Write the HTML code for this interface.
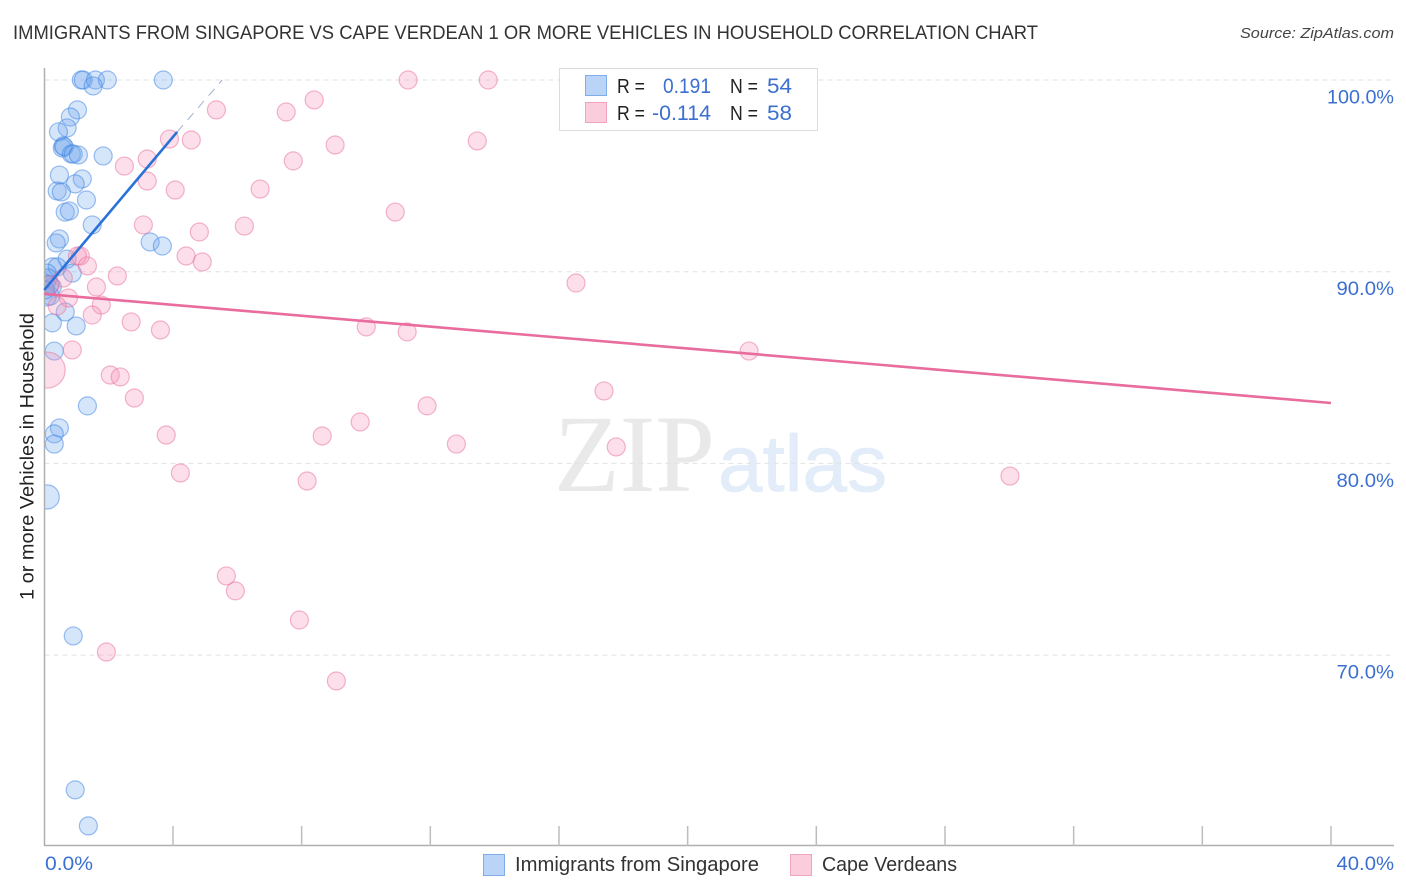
<!DOCTYPE html>
<html lang="en">
<head>
<meta charset="utf-8">
<title>Immigrants from Singapore vs Cape Verdean Correlation Chart</title>
<style>
html,body{margin:0;padding:0;background:#fff;width:1406px;height:892px;overflow:hidden}
svg{display:block}
text{font-family:"Liberation Sans",sans-serif}
</style>
</head>
<body>
<svg id="chart" xmlns="http://www.w3.org/2000/svg" width="1406" height="892" viewBox="0 0 1406 892">
<rect x="0" y="0" width="1406" height="892" fill="#fff"/>
<g>
<text x="554" y="491" font-size="110" fill="#e9e9e9" style="font-family:'Liberation Serif',serif" textLength="161" lengthAdjust="spacingAndGlyphs">ZIP</text>
<text x="718" y="491" font-size="80" fill="#e3ecf9" stroke="#e3ecf9" stroke-width="0.8" textLength="169" lengthAdjust="spacingAndGlyphs">atlas</text>
</g>
<g id="grid"></g>
<g id="points-blue"></g>
<g id="points-pink"></g>
<rect x="0" y="60" width="44.5" height="790" fill="#fff"/>
<g id="axes"></g>
<g id="trends"></g>
<text x="13" y="39" font-size="19.5" fill="#333" textLength="1025" lengthAdjust="spacingAndGlyphs">IMMIGRANTS FROM SINGAPORE VS CAPE VERDEAN 1 OR MORE VEHICLES IN HOUSEHOLD CORRELATION CHART</text>
<text x="1394" y="38" font-size="15" font-style="italic" fill="#444" text-anchor="end" textLength="154" lengthAdjust="spacingAndGlyphs">Source: ZipAtlas.com</text>
<text transform="translate(33.5,456.5) rotate(-90)" font-size="19.5" fill="#222" text-anchor="middle" textLength="287" lengthAdjust="spacingAndGlyphs">1 or more Vehicles in Household</text>
<g>
<rect x="559.5" y="68.5" width="258" height="62" fill="#fff" stroke="#dcdcdc" stroke-width="1"/>
<rect x="585.5" y="75.5" width="21" height="20" fill="#b9d4f6" stroke="#7fadea"/>
<rect x="585.5" y="102.5" width="21" height="20" fill="#fbcddc" stroke="#f2a3be"/>
<text x="617" y="93" font-size="20" fill="#222" textLength="28" lengthAdjust="spacingAndGlyphs">R =</text>
<text x="711" y="93" font-size="21.5" fill="#3b6fd0" text-anchor="end" textLength="48" lengthAdjust="spacingAndGlyphs">0.191</text>
<text x="730" y="93" font-size="20" fill="#222" textLength="28" lengthAdjust="spacingAndGlyphs">N =</text>
<text x="767" y="93" font-size="21.5" fill="#3b6fd0" textLength="25" lengthAdjust="spacingAndGlyphs">54</text>
<text x="617" y="120" font-size="20" fill="#222" textLength="28" lengthAdjust="spacingAndGlyphs">R =</text>
<text x="711" y="120" font-size="21.5" fill="#3b6fd0" text-anchor="end" textLength="59" lengthAdjust="spacingAndGlyphs">-0.114</text>
<text x="730" y="120" font-size="20" fill="#222" textLength="28" lengthAdjust="spacingAndGlyphs">N =</text>
<text x="767" y="120" font-size="21.5" fill="#3b6fd0" textLength="25" lengthAdjust="spacingAndGlyphs">58</text>
</g>
<g>
<rect x="483.5" y="854.5" width="21" height="21" fill="#b9d4f6" stroke="#7fadea"/>
<text x="515" y="871" font-size="20" fill="#333" textLength="244" lengthAdjust="spacingAndGlyphs">Immigrants from Singapore</text>
<rect x="790.5" y="854.5" width="21" height="21" fill="#fbcddc" stroke="#f2a3be"/>
<text x="822" y="871" font-size="20" fill="#333" textLength="135" lengthAdjust="spacingAndGlyphs">Cape Verdeans</text>
</g>
</svg>
<script>
const xTickValues = [0, 4, 8, 12, 16, 20, 24, 28, 32, 36, 40];
const yGridValues = [100, 90, 80, 70];
const yTickLabels = ["100.0%", "90.0%", "80.0%", "70.0%"];
const xEndLabels = ["0.0%", "40.0%"];

const blueX = [1.15,1.21,1.59,1.96,3.70,1.52,1.03,0.81,0.71,0.44,0.59,0.56,0.62,0.84,0.90,1.06,1.83,0.47,1.18,0.96,0.40,0.53,1.31,0.65,0.78,1.49,3.29,3.67,0.47,0.37,0.71,0.87,0.25,0.40,0.09,0.12,0.06,0.25,0.19,0.09,0.65,0.99,0.25,0.31,1.34,0.47,0.31,0.31,0.09,0.90,0.96,1.37,0.16,0.03];
const blueY = [100,100,100,100,100,99.69,98.44,98.07,97.50,97.29,96.56,96.45,96.51,96.14,96.14,96.09,96.04,95.04,94.84,94.58,94.21,94.16,93.74,93.11,93.17,92.44,91.55,91.34,91.71,91.50,90.66,89.93,90.25,90.25,89.93,89.67,89.36,89.20,88.73,88.68,87.90,87.17,87.33,85.86,83.00,81.85,81.54,81.01,78.25,71.0,62.97,61.09,89.31,89.05];
const blueWeight = [1,1,1,1,1,1,1,1,1,1,1,1,1,1,1,1,1,1,1,1,1,1,1,1,1,1,1,1,1,1,1,1,1,1,1,1,1,1,1,1,1,1,1,1,1,1,1,1,1.8,1,1,1,1,1];

const pinkX = [11.31,13.80,8.39,7.52,5.35,3.89,4.57,9.04,13.46,3.20,2.49,7.74,3.20,4.07,6.71,10.91,3.08,6.22,4.82,4.41,4.91,1.12,1.03,1.34,2.27,16.53,1.62,0.59,0.75,0.40,1.77,1.49,2.70,3.61,10.01,11.28,0.87,21.91,0.09,2.05,2.36,17.40,2.80,11.90,9.82,3.79,8.64,12.81,17.78,4.23,8.17,30.02,5.66,5.94,7.93,1.93,9.08,0.19];
const pinkY = [100,100,98.96,98.33,98.44,96.92,96.87,96.61,96.82,95.88,95.51,95.78,94.73,94.26,94.31,93.11,92.44,92.38,92.07,90.82,90.51,90.82,90.82,90.30,89.78,89.41,89.20,89.67,88.63,88.21,88.26,87.74,87.38,86.96,87.12,86.86,85.92,85.86,84.87,84.61,84.51,83.78,83.41,83.00,82.16,81.48,81.43,81.01,80.86,79.50,79.08,79.34,74.13,73.35,71.83,70.16,68.65,89.31];
const pinkWeight = [1,1,1,1,1,1,1,1,1,1,1,1,1,1,1,1,1,1,1,1,1,1,1,1,1,1,1,1,1,1,1,1,1,1,1,1,1,1,4,1,1,1,1,1,1,1,1,1,1,1,1,1,1,1,1,1,1,1];

const blueTrendX = [0, 4.13];
const blueTrendY = [89.05, 97.29];
const blueExtensionX = [4.13, 5.53];
const blueExtensionY = [97.29, 100];
const pinkTrendX = [0, 40];
const pinkTrendY = [88.84, 83.15];

const NS = "http://www.w3.org/2000/svg";
function xScale(v) { return 44.3 + v * (1331 - 44.3) / 40; }
function yScale(v) { return 80 + (100 - v) * 19.17; }
function make(tag, attrs, parent) {
  const el = document.createElementNS(NS, tag);
  for (const k in attrs) el.setAttribute(k, attrs[k]);
  parent.appendChild(el);
  return el;
}
function labelWidth(text) { return text.length * 9.5 + 10; }

const grid = document.getElementById("grid");
yGridValues.forEach(function (v) {
  const line = make("line", {x1: 44.5, x2: 1394, y1: yScale(v), y2: yScale(v), stroke: "#e2e2e2", "stroke-width": 1, "stroke-dasharray": "5 4"}, grid);
  
  
});

const axes = document.getElementById("axes");
const yAxisLine = make("line", {x1: 44.5, x2: 44.5, y1: 68, y2: 846, stroke: "#b0b0b0", "stroke-width": 1.5}, axes);


const xAxisLine = make("line", {x1: 44, x2: 1394, y1: 845.5, y2: 845.5, stroke: "#b0b0b0", "stroke-width": 1.5}, axes);


xTickValues.slice(1).forEach(function (v) {
  const tick = make("line", {x1: xScale(v), x2: xScale(v), y1: 826, y2: 846, stroke: "#bdbdbd", "stroke-width": 1.5}, axes);
  
  
});
yGridValues.forEach(function (v, i) {
  const label = make("text", {x: 1394, y: yScale(v) + 23.5, "font-size": 19.5, fill: "#3b6fd0", "text-anchor": "end", textLength: labelWidth(yTickLabels[i]), lengthAdjust: "spacingAndGlyphs"}, axes);
  
  
  label.textContent = yTickLabels[i];
});
const xStart = make("text", {x: 45, y: 870, "font-size": 19.5, fill: "#3b6fd0", textLength: labelWidth(xEndLabels[0]), lengthAdjust: "spacingAndGlyphs"}, axes);


xStart.textContent = xEndLabels[0];
const xEnd = make("text", {x: 1394, y: 870, "font-size": 19.5, fill: "#3b6fd0", "text-anchor": "end", textLength: labelWidth(xEndLabels[1]), lengthAdjust: "spacingAndGlyphs"}, axes);


xEnd.textContent = xEndLabels[1];

const blueGroup = document.getElementById("points-blue");
blueX.forEach(function (v, i) {
  const c = make("circle", {cx: xScale(v), cy: yScale(blueY[i]), r: 9 * Math.sqrt(blueWeight[i]), fill: "rgba(110,165,238,0.29)", stroke: "rgba(60,130,225,0.5)", "stroke-width": 1.2}, blueGroup);
  
  
});
const pinkGroup = document.getElementById("points-pink");
pinkX.forEach(function (v, i) {
  const c = make("circle", {cx: xScale(v), cy: yScale(pinkY[i]), r: 9 * Math.sqrt(pinkWeight[i]), fill: "rgba(245,150,185,0.3)", stroke: "rgba(232,110,155,0.5)", "stroke-width": 1.2}, pinkGroup);
  
  
});

const trends = document.getElementById("trends");
const blueExt = make("line", {x1: xScale(blueExtensionX[0]), y1: yScale(blueExtensionY[0]), x2: xScale(blueExtensionX[1]), y2: yScale(blueExtensionY[1]), stroke: "#9fb4cc", "stroke-width": 1, "stroke-dasharray": "9 7"}, trends);


const blueTrend = make("line", {x1: xScale(blueTrendX[0]), y1: yScale(blueTrendY[0]), x2: xScale(blueTrendX[1]), y2: yScale(blueTrendY[1]), stroke: "#2a72d8", "stroke-width": 2.6}, trends);


const pinkTrend = make("line", {x1: xScale(pinkTrendX[0]), y1: yScale(pinkTrendY[0]), x2: xScale(pinkTrendX[1]), y2: yScale(pinkTrendY[1]), stroke: "#e96c9e", "stroke-width": 2.6}, trends);


</script>
</body>
</html>
